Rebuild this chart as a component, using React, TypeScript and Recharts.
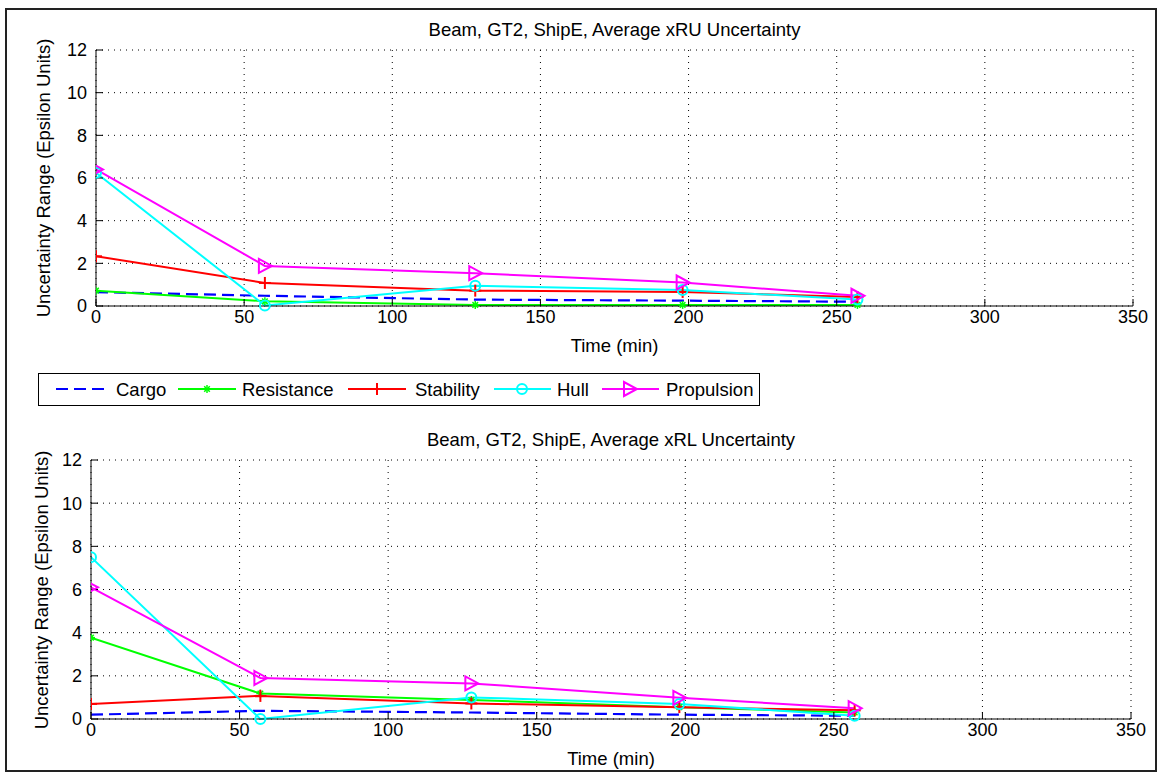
import React from "react";
import { LineChart, Line, XAxis, YAxis, CartesianGrid } from "recharts";

const time = [0, 57, 128, 198, 257];

// xRU (upper)
const cargoU = [0.65, 0.48, 0.3, 0.25, 0.2];
const resistanceU = [0.72, 0.22, 0.05, 0.05, 0.05];
const stabilityU = [2.33, 1.08, 0.72, 0.66, 0.42];
const hullU = [6.25, 0.02, 0.95, 0.75, 0.3];
const propulsionU = [6.4, 1.88, 1.54, 1.1, 0.48];

// xRL (lower)
const cargoL = [0.2, 0.38, 0.3, 0.2, 0.15];
const resistanceL = [3.77, 1.18, 0.88, 0.55, 0.3];
const stabilityL = [0.7, 1.07, 0.72, 0.55, 0.4];
const hullL = [7.5, 0.0, 1.0, 0.7, 0.15];
const propulsionL = [6.1, 1.9, 1.65, 0.98, 0.5];

const xTicks = [0, 50, 100, 150, 200, 250, 300, 350];
const yTicks = [0, 2, 4, 6, 8, 10, 12];

const FONT = "'Liberation Sans', Arial, sans-serif";
const FS = 18.5;
const FS_TICK = 18;

const buildRows = (c: number[], r: number[], s: number[], h: number[], p: number[]) =>
  time.map((t, i) => ({ t, cargo: c[i], resistance: r[i], stability: s[i], hull: h[i], propulsion: p[i] }));

const topRows = buildRows(cargoU, resistanceU, stabilityU, hullU, propulsionU);
const bottomRows = buildRows(cargoL, resistanceL, stabilityL, hullL, propulsionL);

const StarDot = (props: any) => {
  const { cx, cy, index } = props;
  const r = 4;
  return (
    <g key={`star-${index}`} stroke="#00ff00" strokeWidth={1.5}>
      <line x1={cx - r} y1={cy} x2={cx + r} y2={cy} />
      <line x1={cx} y1={cy - r} x2={cx} y2={cy + r} />
      <line x1={cx - r * 0.7} y1={cy - r * 0.7} x2={cx + r * 0.7} y2={cy + r * 0.7} />
      <line x1={cx - r * 0.7} y1={cy + r * 0.7} x2={cx + r * 0.7} y2={cy - r * 0.7} />
    </g>
  );
};

const PlusDot = (props: any) => {
  const { cx, cy, index } = props;
  const r = 6;
  return (
    <g key={`plus-${index}`} stroke="#ff0000" strokeWidth={2}>
      <line x1={cx - r} y1={cy} x2={cx + r} y2={cy} />
      <line x1={cx} y1={cy - r} x2={cx} y2={cy + r} />
    </g>
  );
};

const CircleDot = (props: any) => {
  const { cx, cy, index } = props;
  return <circle key={`circ-${index}`} cx={cx} cy={cy} r={5} fill="none" stroke="#00ffff" strokeWidth={2} />;
};

const TriDot = (props: any) => {
  const { cx, cy, index } = props;
  return (
    <polygon
      key={`tri-${index}`}
      points={`${cx - 6},${cy - 7} ${cx - 6},${cy + 7} ${cx + 7},${cy}`}
      fill="none"
      stroke="#ff00ff"
      strokeWidth={2}
    />
  );
};

const tickStyle = { fill: "#000", fontSize: FS_TICK, fontFamily: FONT };

function Panel({ rows, top, left, right, plotTop, plotBottom, title, labelX }: any) {
  const height = 370;
  const xAxisH = 30;
  return (
    <div style={{ position: "absolute", left: 0, top }}>
      <LineChart
        width={1160}
        height={height}
        data={rows}
        margin={{ top: plotTop, right: 1160 - right, left: 0, bottom: height - plotBottom - xAxisH }}
      >
        <CartesianGrid stroke="#000" strokeDasharray="1 5" strokeWidth={1} />
        <XAxis
          dataKey="t"
          type="number"
          domain={[0, 350]}
          ticks={xTicks}
          height={xAxisH}
          stroke="#000"
          tick={tickStyle}
          tickSize={-7}
          tickMargin={11}
          allowDataOverflow
        />
        <XAxis
          xAxisId="top"
          orientation="top"
          dataKey="t"
          type="number"
          domain={[0, 350]}
          ticks={xTicks}
          height={0}
          stroke="#000"
          tick={false}
          tickSize={-7}
        />
        <YAxis
          type="number"
          domain={[0, 12]}
          ticks={yTicks}
          width={left}
          stroke="#000"
          tick={tickStyle}
          tickSize={-7}
          tickMargin={16}
        />
        <YAxis
          yAxisId="right"
          orientation="right"
          type="number"
          domain={[0, 12]}
          ticks={yTicks}
          width={0}
          stroke="#000"
          tick={false}
          tickSize={-7}
        />
        <Line dataKey="cargo" stroke="#0000ff" strokeWidth={2.2} strokeDasharray="12 6" dot={false} isAnimationActive={false} />
        <Line dataKey="resistance" stroke="#00ff00" strokeWidth={2} dot={StarDot} isAnimationActive={false} />
        <Line dataKey="stability" stroke="#ff0000" strokeWidth={2} dot={PlusDot} isAnimationActive={false} />
        <Line dataKey="hull" stroke="#00ffff" strokeWidth={2} dot={CircleDot} isAnimationActive={false} />
        <Line dataKey="propulsion" stroke="#ff00ff" strokeWidth={2} dot={TriDot} isAnimationActive={false} />
      </LineChart>
      <div
        style={{
          position: "absolute",
          left: left,
          width: right - left,
          top: plotTop - 31,
          textAlign: "center",
          fontFamily: FONT,
          fontSize: FS,
          lineHeight: "22px",
        }}
      >
        {title}
      </div>
      <div
        style={{
          position: "absolute",
          left: left,
          width: right - left,
          top: plotBottom + 29,
          textAlign: "center",
          fontFamily: FONT,
          fontSize: FS,
          lineHeight: "22px",
        }}
      >
        Time (min)
      </div>
      <div
        style={{
          position: "absolute",
          left: labelX - 160,
          width: 320,
          top: (plotTop + plotBottom) / 2 - 11,
          textAlign: "center",
          fontFamily: FONT,
          fontSize: FS,
          lineHeight: "22px",
          transform: "rotate(-90deg)",
        }}
      >
        Uncertainty Range (Epsilon Units)
      </div>
    </div>
  );
}

function LegendBox() {
  const textStyle = { fontFamily: FONT, fontSize: FS, fill: "#000" } as any;
  const cy = 16;
  return (
    <svg
      width={722}
      height={33}
      style={{ position: "absolute", left: 38, top: 373, background: "#fff" }}
    >
      <rect x={0.5} y={0.5} width={721} height={32} fill="#fff" stroke="#000" strokeWidth={1} />
      <line x1={18} y1={cy} x2={71} y2={cy} stroke="#0000ff" strokeWidth={2.2} strokeDasharray="12 6" />
      <text x={78} y={cy} dominantBaseline="central" style={textStyle}>Cargo</text>
      <line x1={140} y1={cy} x2={198} y2={cy} stroke="#00ff00" strokeWidth={2} />
      <StarDot cx={169} cy={cy} index={0} />
      <text x={204} y={cy} dominantBaseline="central" style={textStyle}>Resistance</text>
      <line x1={310} y1={cy} x2={368} y2={cy} stroke="#ff0000" strokeWidth={2} />
      <PlusDot cx={339} cy={cy} index={0} />
      <text x={377} y={cy} dominantBaseline="central" style={textStyle}>Stability</text>
      <line x1={456} y1={cy} x2={513} y2={cy} stroke="#00ffff" strokeWidth={2} />
      <CircleDot cx={484} cy={cy} index={0} />
      <text x={519} y={cy} dominantBaseline="central" style={textStyle}>Hull</text>
      <line x1={564} y1={cy} x2={621} y2={cy} stroke="#ff00ff" strokeWidth={2} />
      <TriDot cx={592} cy={cy} index={0} />
      <text x={628} y={cy} dominantBaseline="central" style={textStyle}>Propulsion</text>
    </svg>
  );
}

export default function App() {
  return (
    <div style={{ position: "absolute", left: 0, top: 0, width: 1160, height: 775, background: "#fff" }}>
      <div
        style={{
          position: "absolute",
          left: 5,
          top: 8,
          width: 1148,
          height: 760,
          border: "2px solid #222",
        }}
      />
      <Panel
        rows={topRows}
        top={0}
        left={96}
        right={1133}
        plotTop={50}
        plotBottom={306}
        labelX={44}
        title="Beam, GT2, ShipE, Average xRU Uncertainty"
      />
      <Panel
        rows={bottomRows}
        top={400}
        left={91}
        right={1131}
        plotTop={60}
        plotBottom={319}
        labelX={42}
        title="Beam, GT2, ShipE, Average xRL Uncertainty"
      />
      <LegendBox />
    </div>
  );
}
